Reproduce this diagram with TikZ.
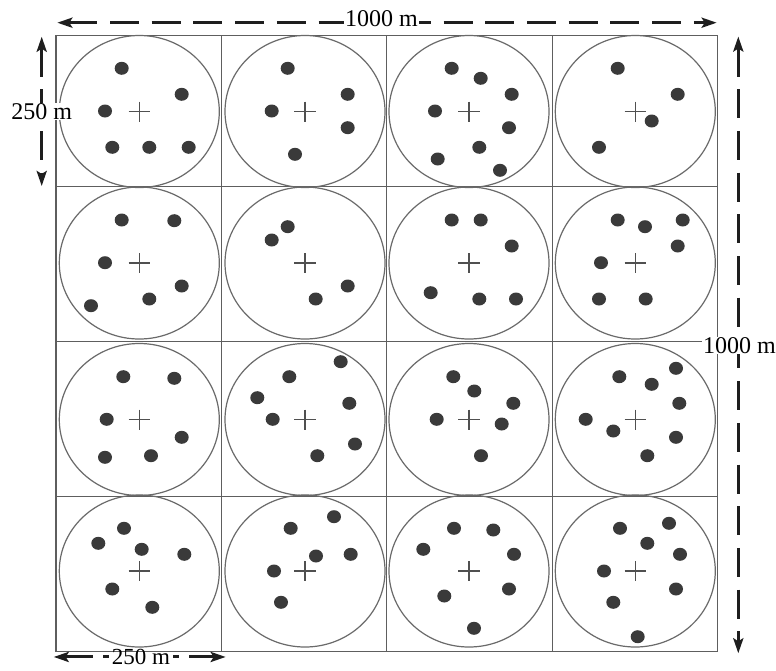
\documentclass[tikz,border=0pt]{standalone}
\usepackage{fontspec}
\setmainfont{Liberation Serif}
\usetikzlibrary{arrows.meta}
\definecolor{gridc}{HTML}{5E5E5E}
\definecolor{ringc}{HTML}{6A6A6A}
\definecolor{dotc}{HTML}{3A3A3A}
\definecolor{crossc}{HTML}{505050}
\definecolor{arrc}{HTML}{1E1E1E}
\tikzset{
  gridline/.style={draw=gridc, line width=1.3pt},
  ring/.style={draw=ringc, line width=1.2pt},
  crossline/.style={draw=crossc, line width=1.2pt},
  dimarrow/.style={draw=arrc, line width=3pt, dash pattern=on 29pt off 12.7pt,
    {Stealth[length=15pt,width=10pt,inset=3pt]}-{Stealth[length=15pt,width=10pt,inset=3pt]}},
  halfarrow/.style={draw=arrc, line width=3pt, dash pattern=on 6pt off 10pt on 200pt,
    -{Stealth[length=15pt,width=10pt,inset=3pt]}},
  dimlabel/.style={fill=white, inner xsep=1pt, inner ysep=0.5pt, anchor=base,
    font=\fontsize{24pt}{28pt}\selectfont, text=black},
  botlabel/.style={inner xsep=0pt, inner ysep=0pt, anchor=base,
    font=\fontsize{23pt}{27pt}\selectfont, text=black},
}
\begin{document}
\begin{tikzpicture}[x=1pt,y=-1pt]
\useasboundingbox (0,0) rectangle (776,670);
\fill[white] (0,0) rectangle (776,670);
% grid
\draw[gridline] (56,35.7) rectangle (717.3,651.7);
\foreach \gx in {221.7,386.7,552.3} \draw[gridline] (\gx,35.7) -- (\gx,651.7);
\foreach \gy in {186.7,341.7,496.7} \draw[gridline] (56,\gy) -- (717.3,\gy);
% rings and crosses
\foreach \cx in {139.3,305,469,635.3} {
  \foreach \cy in {111.5,263,419.5,571} {
    \draw[ring] (\cx,\cy) ellipse [x radius=80pt, y radius=76pt];
    \draw[crossline] (\cx-10.8,\cy) -- (\cx+10.8,\cy) (\cx,\cy-10) -- (\cx,\cy+10);
  }
}
% dots
\foreach \x/\y in {
121.7/68.3,181.7/94.3,105/111,112.3/147.3,149.3/147.3,188.7/147.3,
287.7/68.3,347.7/94.3,271.7/111,347.7/127.7,295/154.3,
451.7/68.3,480.7/78.3,511.7/94.3,435/111,509/127.7,479.3/147.3,437.7/159,500/170.3,
617.7/68.3,677.7/94.3,651.7/121,599/147.3,
121.7/220,174.3/220.7,105/262.7,181.7/286,149.3/299,91/305.7,
287.7/226.7,271.7/240,347.7/286,315.7/299,
451.7/220,480.7/220,511.7/246,430.7/292.7,479.3/299,516/299,
617.7/220,645/226.7,682.7/220,677.7/246,601/262.7,599/299,645.7/299,
123.3/376.7,174.3/378.3,106.7/419.3,181.7/437.3,105/457.3,151/455.7,
289.3/376.7,340.7/361.7,257.3/397.7,349.3/403.3,272.7/419.3,355/444,317.3/455.7,
453.3/376.7,474.3/391,513.3/403.3,436.7/419.3,501.7/424,481/455.7,
619.3/376.7,676/368.3,651.7/384.3,679.3/403.3,585.7/419.3,613.3/431,676/437.3,647.3/455.7,
124/528.3,98.3/543.3,141.7/549.3,184.3/554.3,112.3/589,152.3/607.3,
290.7/528.3,334/516.7,316/556,350.7/554.3,274/571,281/602.3,
454/528.3,493.3/530,423.3/549.3,514/554.3,444.3/596,509/589,474/628.3,
620/528.3,669/523.3,647.3/543.3,680/554.3,604/571,676/589,613.3/602.3,637.7/636.7}
  \fill[dotc] (\x,\y) ellipse [x radius=7pt, y radius=6.5pt];
% dimension arrows
\coordinate (topL) at (57.3,22.7);
\coordinate (topR) at (716.7,22.7);
\coordinate (lefT) at (41.7,36.7);
\coordinate (lefB) at (41.7,186);
\coordinate (rigT) at (738.3,36.5);
\coordinate (rigB) at (738.3,653.3);
\draw[dimarrow] (topL) -- (topR);
\draw[dimarrow] (lefT) -- (lefB);
\draw[dimarrow] (rigT) -- (rigB);
\node[dimlabel] (ltop) at (381.5,26.7) {1000 m};
\node[dimlabel] (lleft) at (41.7,119.3) {250 m};
\node[dimlabel] (lright) at (739.5,353.3) {1000 m};
% bottom dimension
\node[botlabel] (lbot) at (141,664.5) {250 m};
\coordinate (botL) at (56.7,0);
\coordinate (botR) at (222.7,0);
\draw[halfarrow] ([xshift=-3pt]lbot.west) -- ([xshift=-3pt]lbot.west -| botL);
\draw[halfarrow] ([xshift=3pt]lbot.east) -- ([xshift=3pt]lbot.east -| botR);
\end{tikzpicture}
\end{document}
